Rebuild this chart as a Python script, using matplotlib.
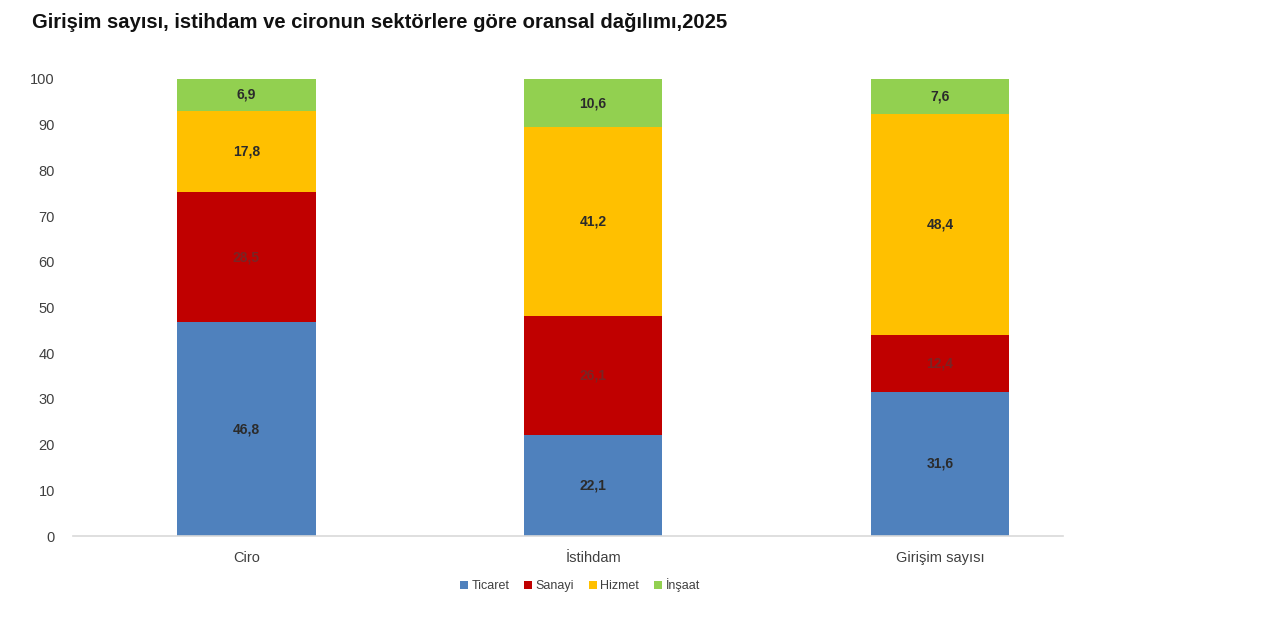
import matplotlib
matplotlib.use("Agg")
import matplotlib.pyplot as plt
import numpy as np

plt.rcParams['font.family'] = ['Liberation Sans', 'DejaVu Sans']

categories = ["Ciro", "İstihdam", "Girişim sayısı"]
series_names = ["Ticaret", "Sanayi", "Hizmet", "İnşaat"]
ticaret = [46.8, 22.1, 31.6]
sanayi = [28.5, 26.1, 12.4]
hizmet = [17.8, 41.2, 48.4]
insaat = [6.9, 10.6, 7.6]
yticks = [0, 10, 20, 30, 40, 50, 60, 70, 80, 90, 100]
title = "Girişim sayısı, istihdam ve cironun sektörlere göre oransal dağılımı,2025"

colors = ["#4F81BD", "#C00000", "#FFC000", "#92D050"]
label_colors = ["#2b2b2b", "#7a2424", "#2b2b2b", "#2b2b2b"]

fig = plt.figure(figsize=(12.8, 6.18), dpi=100)
ax = fig.add_axes([73/1280, 1-536/618, (1063-73)/1280, (536-79)/618])

x = np.arange(len(categories))
bottom = np.zeros(len(categories))
for vals, name, c, lc in zip([ticaret, sanayi, hizmet, insaat], series_names, colors, label_colors):
    vals = np.array(vals)
    ax.bar(x, vals, width=0.4, bottom=bottom, color=c, label=name, zorder=2)
    for xi, b, v in zip(x, bottom, vals):
        ax.text(xi, b + v/2, f"{v:.1f}".replace(".", ","), ha="center", va="center",
                fontsize=10, fontweight="bold", color=lc, zorder=3)
    bottom += vals

ax.set_xlim(-0.5, 2.355)
ax.set_ylim(0, 100)
ax.set_yticks(yticks)
ax.set_yticklabels([str(t) for t in yticks])
ax.set_xticks(x)
ax.set_xticklabels(categories)
for s in ["top", "right", "left"]:
    ax.spines[s].set_visible(False)
ax.spines["bottom"].set_color("#d9d9d9")
ax.spines["bottom"].set_linewidth(1.2)
ax.tick_params(axis="both", length=0, labelsize=10.5, colors="#404040")
ax.tick_params(axis="y", pad=13)
ax.tick_params(axis="x", pad=11)

fig.text(32/1280, 1-23/618, title, fontsize=14.6, fontweight="bold", ha="left", va="center", color="#111111")

leg = fig.legend(loc="center", bbox_to_anchor=(580/1280, 1-585/618), ncol=4, frameon=False,
                 fontsize=9, handlelength=0.6, handleheight=0.6, handletextpad=0.3, columnspacing=1.2)
for t in leg.get_texts():
    t.set_color("#404040")

fig.savefig("out.png", dpi=100)
